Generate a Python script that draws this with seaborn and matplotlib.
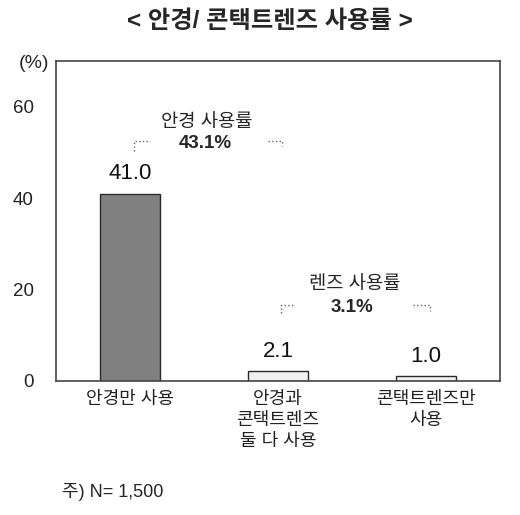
import numpy as np
import pandas as pd
import matplotlib
matplotlib.use('Agg')
import matplotlib.pyplot as plt
import seaborn as sns

# data
categories = ['안경만 사용', '안경과\n콘택트렌즈\n둘 다 사용', '콘택트렌즈만\n사용']
values = [41.0, 2.1, 1.0]
bar_colors = ['#808080', '#f0f0f0', '#f0f0f0']
yticks = [0, 20, 40, 60]

sns.set_style('white')
plt.rcParams['font.family'] = ['Liberation Sans', 'Noto Sans CJK KR', 'DejaVu Sans']

df = pd.DataFrame({'category': categories, 'value': values})

fig = plt.figure(figsize=(5.2, 5.15), dpi=100)
ax = fig.add_axes([0.1077, 0.2602, 0.8538, 0.6214])

sns.barplot(data=df, x='category', y='value', hue='category', palette=bar_colors,
            width=0.4, edgecolor='#2a2a2a', linewidth=1.0, legend=False, ax=ax)

ax.set_ylim(0, 70)
ax.set_xlim(-0.5, 2.5)
ax.set_yticks(yticks)
ax.set_yticklabels([str(t) for t in yticks], fontsize=13.5, color='#222222')
ax.set_xticks(range(len(categories)))
ax.set_xticklabels(categories, fontsize=13, color='#222222', linespacing=1.3, va='top')
ax.set_xticks([0.5, 1.5], minor=True)
ax.tick_params(axis='x', which='major', length=0, pad=7)
ax.tick_params(axis='x', which='minor', direction='in', length=5, width=1, color='#444444')
ax.tick_params(axis='y', direction='in', length=4, width=1, color='#444444', pad=16)
ax.set_xlabel('')
ax.set_ylabel('')
for sp in ax.spines.values():
    sp.set_color('#444444')
    sp.set_linewidth(1.2)

# value labels
for i, v in enumerate(values):
    ax.annotate(f'{v:.1f}', (i, v), xytext=(0, 7), textcoords='offset points',
                ha='center', va='bottom', fontsize=16, color='#111111')

# group annotations
ax.text(0.52, 56.6, '안경 사용률', ha='center', va='center', fontsize=13.5)
ax.text(0.51, 52.0, '43.1%', ha='center', va='center', fontsize=13.5, fontweight='bold')
ax.plot([0.03, 0.03, 0.135], [50.4, 52.5, 52.5], ls=':', color='#666666', lw=1)
ax.plot([0.93, 1.03, 1.03], [52.5, 52.5, 51.3], ls=':', color='#666666', lw=1)

ax.text(1.52, 21.0, '렌즈 사용률', ha='center', va='center', fontsize=13.5)
ax.text(1.50, 16.1, '3.1%', ha='center', va='center', fontsize=13.5, fontweight='bold')
ax.plot([1.02, 1.02, 1.10], [14.8, 16.6, 16.6], ls=':', color='#666666', lw=1)
ax.plot([1.91, 2.03, 2.03], [16.6, 16.6, 15.4], ls=':', color='#666666', lw=1)

fig.text(34 / 520, 1 - 64 / 515, '(%)', ha='center', va='center', fontsize=14)
fig.text(270 / 520, 1 - 22 / 515, '< 안경/ 콘택트렌즈 사용률 >', ha='center', va='center',
         fontsize=17.5, fontweight='bold')
fig.text(62 / 520, 1 - 492 / 515, '주) N= 1,500', ha='left', va='center', fontsize=13)

fig.savefig('out.png', dpi=100)
